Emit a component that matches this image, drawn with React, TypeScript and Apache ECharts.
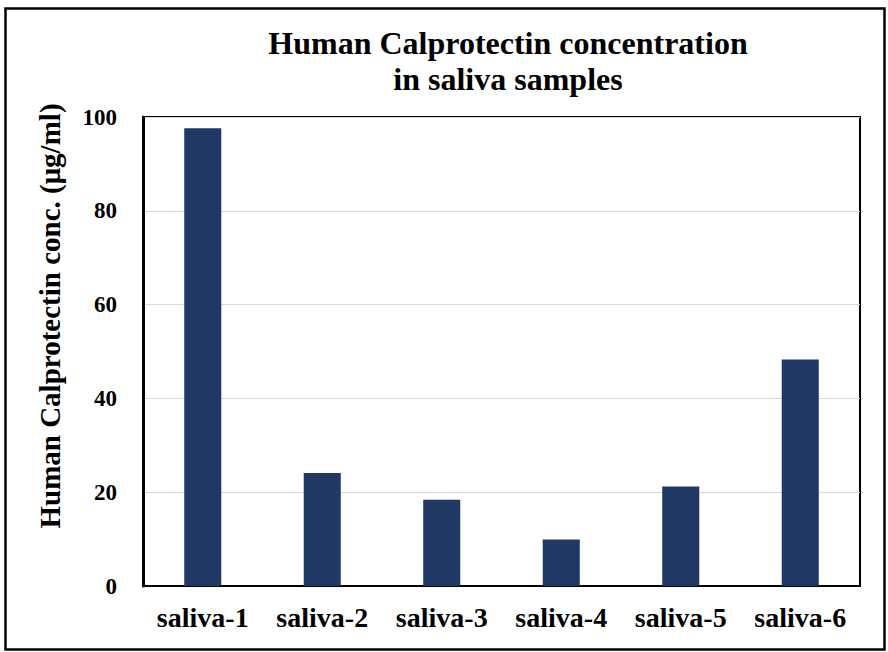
import React, { useEffect, useRef } from "react";
import * as echarts from "echarts";

const categories = ["saliva-1", "saliva-2", "saliva-3", "saliva-4", "saliva-5", "saliva-6"];
const concentrations = [97.6, 24.1, 18.4, 9.9, 21.2, 48.3];
const titleLines = ["Human Calprotectin concentration", "in saliva samples"];
const yAxisTitle = "Human Calprotectin conc. (\u03bcg/ml)";

const FONT = "'Liberation Serif', 'Times New Roman', serif";

export default function App() {
  const ref = useRef<HTMLDivElement>(null);
  useEffect(() => {
    if (!ref.current) return;
    const chart = echarts.init(ref.current, null, { renderer: "svg" });
    chart.setOption({
      animation: false,
      backgroundColor: "#ffffff",
      grid: {
        left: 143,
        right: 28,
        top: 117,
        bottom: 66,
        show: true,
        borderColor: "#000",
        borderWidth: 2,
        backgroundColor: "transparent",
      },
      xAxis: {
        type: "category",
        data: categories,
        axisTick: { show: false },
        axisLine: { show: true, lineStyle: { color: "#000", width: 2 } },
        axisLabel: {
          color: "#000",
          fontFamily: FONT,
          fontWeight: "bold",
          fontSize: 28,
          margin: 17,
        },
      },
      yAxis: {
        type: "value",
        min: 0,
        max: 100,
        interval: 20,
        axisTick: { show: false },
        axisLine: { show: true, lineStyle: { color: "#000", width: 3 } },
        splitLine: { show: true, lineStyle: { color: "#d9d9d9", width: 1 } },
        axisLabel: {
          color: "#000",
          fontFamily: FONT,
          fontWeight: "bold",
          fontSize: 23,
          margin: 26,
        },
      },
      series: [
        {
          type: "bar",
          data: concentrations,
          barWidth: "31%",
          itemStyle: { color: "#203864" },
        },
      ],
      graphic: [
        {
          type: "rect",
          shape: { x: 5.5, y: 8.5, width: 879, height: 641 },
          style: { fill: "none", stroke: "#000", lineWidth: 2.5 },
          silent: true,
        },
        {
          type: "text",
          x: 508,
          y: 25,
          style: {
            text: titleLines.join("\n"),
            textAlign: "center",
            textVerticalAlign: "top",
            fontFamily: FONT,
            fontWeight: "bold",
            fontSize: 32,
            lineHeight: 36,
            fill: "#000",
          },
        },
        {
          type: "text",
          x: 50,
          y: 316,
          rotation: Math.PI / 2,
          style: {
            text: yAxisTitle,
            textAlign: "center",
            textVerticalAlign: "middle",
            fontFamily: FONT,
            fontWeight: "bold",
            fontSize: 29,
            fill: "#000",
          },
        },
      ],
    });
    return () => chart.dispose();
  }, []);
  return (
    <div
      ref={ref}
      style={{ position: "fixed", left: 0, top: 0, width: 888, height: 652 }}
    />
  );
}
